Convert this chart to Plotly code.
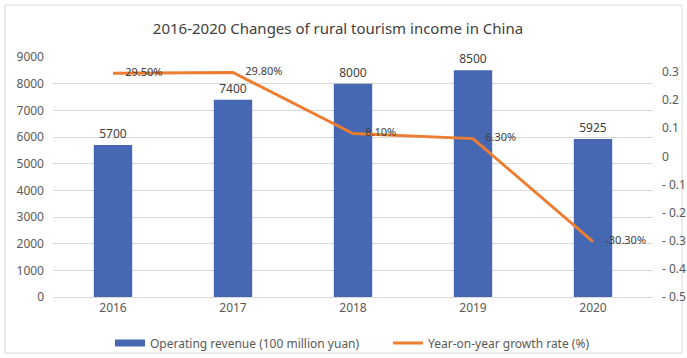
import plotly.graph_objects as go

years = ["2016", "2017", "2018", "2019", "2020"]
revenue = [5700, 7400, 8000, 8500, 5925]
growth = [0.295, 0.298, 0.081, 0.063, -0.303]
growth_labels = ["29.50%", "29.80%", "8.10%", "6.30%", "-30.30%"]

W, H = 687, 358
L, R, T, B = 53, 34, 57, 61
pw, ph = W - L - R, H - T - B

def px_x(x):
    return (x - L) / pw

def px_y(y):
    return (H - B - y) / ph

FONT = "Noto Sans"
TXT = "#404040"
AX = "#595959"
BLUE = "#4668b3"
ORANGE = "#ed7d31"

fig = go.Figure()
fig.add_trace(go.Bar(
    x=years, y=revenue, name="Operating revenue (100 million yuan)",
    marker=dict(color=BLUE, line=dict(width=0)),
    text=[str(v) for v in revenue], textposition="outside",
    textfont=dict(size=12, color=TXT, family=FONT), cliponaxis=False,
    yaxis="y", showlegend=False,
))
fig.add_trace(go.Scatter(
    x=[None], y=[None], name="Operating revenue (100 million yuan)",
    mode="lines", line=dict(color=BLUE, width=7), yaxis="y", legend="legend",
))
fig.add_trace(go.Scatter(
    x=years, y=growth, name="Year-on-year growth rate (%)",
    mode="lines+markers+text", line=dict(color=ORANGE, width=3),
    marker=dict(size=18, color="rgba(0,0,0,0)", line=dict(width=0)),
    text=growth_labels, textposition="middle right",
    textfont=dict(size=11, color=TXT, family=FONT), cliponaxis=False,
    yaxis="y2", legend="legend2",
))

leg_common = dict(orientation="h", xanchor="left", y=px_y(343), yanchor="middle",
                  font=dict(size=12, color=AX, family=FONT),
                  itemwidth=30, bgcolor="rgba(0,0,0,0)")

fig.update_layout(
    width=W, height=H,
    margin=dict(l=L, r=R, t=T, b=B, autoexpand=False),
    paper_bgcolor="white", plot_bgcolor="white",
    font=dict(family=FONT, color=AX, size=12),
    title=dict(text="2016-2020 Changes of rural tourism income in China",
               x=338 / W, xref="container", xanchor="center",
               y=1 - 29 / H, yref="container", yanchor="middle",
               font=dict(size=15, color=TXT, family=FONT)),
    bargap=0.68,
    showlegend=True,
    legend=dict(x=px_x(110), **leg_common),
    legend2=dict(x=px_x(388), **leg_common),
    xaxis=dict(showgrid=False, ticks="", showline=True, linecolor="#d9d9d9",
               tickfont=dict(size=12, color=AX), automargin=False),
    yaxis=dict(range=[0, 9000], dtick=1000, showgrid=True, gridcolor="#d9d9d9",
               zeroline=False, ticks="", ticklabelstandoff=8, automargin=False,
               tickfont=dict(size=12, color=AX)),
    yaxis2=dict(range=[-0.5, 0.3 + 15 / 282.5], tickvals=[0.3, 0.2, 0.1, 0, -0.1, -0.2, -0.3, -0.4, -0.5],
                ticktext=["0.3", "0.2", "0.1", "0", "- 0.1", "- 0.2", "- 0.3", "- 0.4", "- 0.5"],
                overlaying="y", side="right", showgrid=False, zeroline=False, automargin=False,
                ticks="", ticklabelstandoff=8, tickfont=dict(size=12, color=AX)),
    shapes=[dict(type="rect", xref="paper", yref="paper",
                 x0=px_x(5), x1=px_x(682), y0=px_y(353), y1=px_y(5),
                 line=dict(color="#d9d9d9", width=1), fillcolor="rgba(0,0,0,0)", layer="below")],
)

fig.write_html("out.html")
